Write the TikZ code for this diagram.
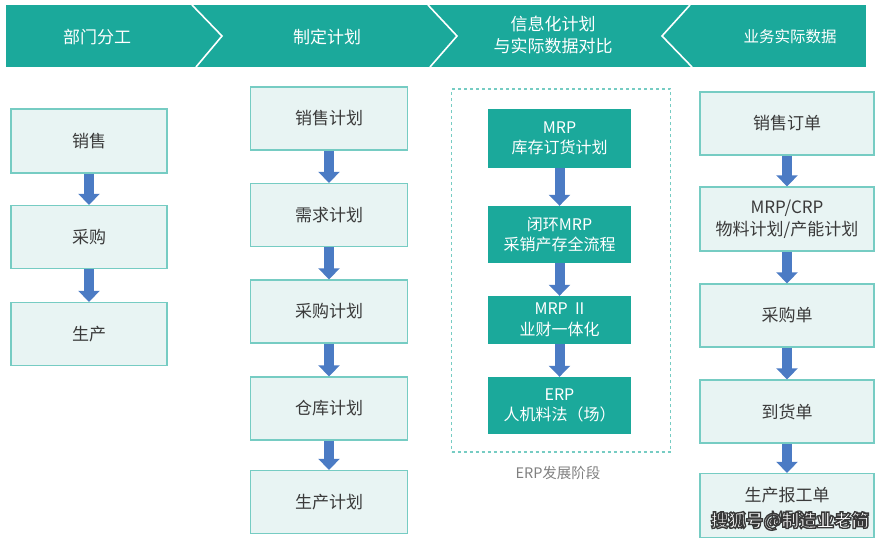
\documentclass[tikz,border=0pt]{standalone}
\usepackage{fontspec}
\setmainfont{Noto Sans CJK SC}
\usetikzlibrary{arrows.meta}
\definecolor{teal1}{HTML}{1BA99B}
\definecolor{boxfill}{HTML}{E8F4F3}
\definecolor{boxline}{HTML}{76CCC3}
\definecolor{txt}{HTML}{3A3A3A}
\definecolor{arr}{HTML}{4B7BC4}
\definecolor{cap}{HTML}{808080}
\tikzset{
  lbox/.style={draw=boxline, line width=1.3pt, fill=boxfill, text=txt, font=\fontsize{17}{22}\selectfont, align=center, inner sep=0pt},
  tbox/.style={fill=teal1, text=white, font=\fontsize{16}{20.5}\selectfont, align=center, inner sep=0pt},
  harr/.style={draw=arr, line width=10pt, -{Triangle[width=21pt,length=11pt]}},
  htext/.style={text=white, font=\fontsize{17}{22}\selectfont, align=center},
  chev/.style={draw=white, line width=1.6pt},
}
\begin{document}
\begin{tikzpicture}[x=1pt,y=-1pt]
\useasboundingbox (0,0) rectangle (888,541);
% header band
\fill[teal1] (6,5) rectangle (866,67);
\draw[chev] (192,5) -- (222,36) -- (196,67);
\draw[chev] (428,5) -- (457,36) -- (430,67);
\draw[chev] (690,5) -- (662,36) -- (692,67);
\node[htext] (h1) at (97,37) {部门分工};
\node[htext] (h2) at (327,37) {制定计划};
\node[htext] (h3) at (553,35) {信息化计划\\与实际数据对比};
\node[htext, font=\fontsize{15.5}{20}\selectfont] (h4) at (790,37) {业务实际数据};
% column 1
\node[lbox, minimum width=156pt, minimum height=64pt] (a1) at (89,141) {销售};
\node[lbox, minimum width=156pt, minimum height=63pt] (a2) at (89,237) {采购};
\node[lbox, minimum width=156pt, minimum height=63pt] (a3) at (89,334) {生产};
\draw[harr] (a1.south) -- (a2.north);
\draw[harr] (a2.south) -- (a3.north);
% column 2
\node[lbox, minimum width=157pt, minimum height=63pt] (b1) at (329,118.5) {销售计划};
\node[lbox, minimum width=157pt, minimum height=63pt] (b2) at (329,215) {需求计划};
\node[lbox, minimum width=157pt, minimum height=63pt] (b3) at (329,311.5) {采购计划};
\node[lbox, minimum width=157pt, minimum height=63pt] (b4) at (329,408.5) {仓库计划};
\node[lbox, minimum width=157pt, minimum height=63pt] (b5) at (329,502) {生产计划};
\draw[harr] (b1.south) -- (b2.north);
\draw[harr] (b2.south) -- (b3.north);
\draw[harr] (b3.south) -- (b4.north);
\draw[harr] (b4.south) -- (b5.north);
% column 3
\node[draw=boxline, line width=1.3pt, dash pattern=on 3pt off 3pt, minimum width=219pt, minimum height=363pt, inner sep=0pt] (frame) at (561,270.5) {};
\node[text=cap, font=\fontsize{14.5}{18}\selectfont] (capt) at (558,473) {ERP发展阶段};
\node[tbox, minimum width=143pt, minimum height=59pt] (c1) at (559.5,138.5) {MRP\\库存订货计划};
\node[tbox, minimum width=143pt, minimum height=57pt] (c2) at (559.5,234.5) {闭环MRP\\采销产存全流程};
\node[tbox, minimum width=143pt, minimum height=48pt] (c3) at (559.5,320) {MRP\ \ II\\业财一体化};
\node[tbox, minimum width=143pt, minimum height=57pt] (c4) at (559.5,405.5) {ERP\\人机料法（场）};
\draw[harr] (c1.south) -- (c2.north);
\draw[harr] (c2.south) -- (c3.north);
\draw[harr] (c3.south) -- (c4.north);
% column 4
\node[lbox, minimum width=174pt, minimum height=63pt] (d1) at (787,123.5) {销售订单};
\node[lbox, minimum width=174pt, minimum height=64pt] (d2) at (787,219) {MRP/CRP\\物料计划/产能计划};
\node[lbox, minimum width=174pt, minimum height=63pt] (d3) at (787,315.5) {采购单};
\node[lbox, minimum width=174pt, minimum height=63pt] (d4) at (787,411.5) {到货单};
\node[lbox, minimum width=174pt, minimum height=64pt] (d5) at (787,505.5) {生产报工单\\MES};
\draw[harr] (d1.south) -- (d2.north);
\draw[harr] (d2.south) -- (d3.north);
\draw[harr] (d3.south) -- (d4.north);
\draw[harr] (d4.south) -- (d5.north);
% watermark (white text with dark outline)
\node[text=white, font=\bfseries\fontsize{17.5}{20}\selectfont] (wm) at (790,521)
  {\special{pdf:literal direct 2 Tr 1.4 w 0.22 0.22 0.22 RG}搜狐号@制造业老简\special{pdf:literal direct 0 Tr}};
\end{tikzpicture}
\end{document}
